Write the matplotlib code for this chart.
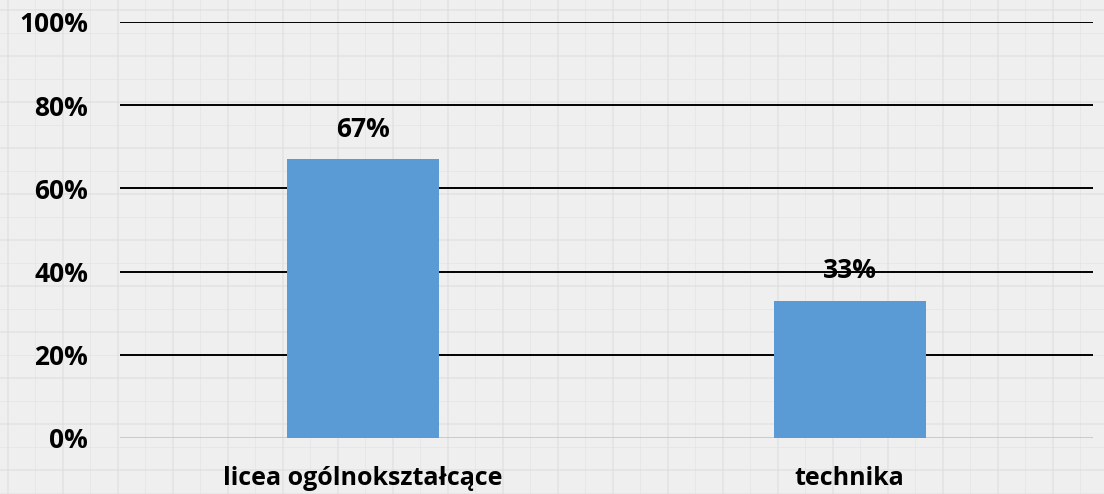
import matplotlib
matplotlib.use('Agg')
import matplotlib.pyplot as plt
from matplotlib.ticker import PercentFormatter

# data
CATEGORIES = ['licea ogólnokształcące', 'technika']
VALUES     = [67, 33]
Y_TICKS    = [0, 20, 40, 60, 80, 100]

BG       = '#efeff0'
PAPER    = '#dedee1'
BAR      = '#5b9bd5'
FONT     = 'Open Sans'

fig = plt.figure(figsize=(11.04, 4.94), dpi=100)
fig.patch.set_facecolor(BG)

# faint grid-paper texture behind the chart
bg = fig.add_axes([0, 0, 1, 1], zorder=-1)
bg.set_xlim(0, 1104); bg.set_ylim(494, 0)
bg.axis('off')
for x in range(8, 1104, 55):
    bg.axvline(x, color=PAPER, lw=1.2, alpha=0.7)
    bg.axvline(x + 27, color=PAPER, lw=0.6, alpha=0.5)
for y in range(10, 494, 46):
    bg.axhline(y, color=PAPER, lw=1.2, alpha=0.7)
    bg.axhline(y + 23, color=PAPER, lw=0.6, alpha=0.5)

ax = fig.add_axes([0.1087, 0.1134, 0.8813, 0.8421])
ax.patch.set_alpha(0)

x = range(len(CATEGORIES))
bars = ax.bar(x, VALUES, width=0.313, color=BAR, zorder=3)

ax.set_xlim(-0.5, 1.5)
ax.set_ylim(0, 100)
ax.set_yticks(Y_TICKS)
ax.yaxis.set_major_formatter(PercentFormatter(decimals=0))
ax.set_xticks(list(x))
ax.set_xticklabels(CATEGORIES)

for sp in ax.spines.values():
    sp.set_visible(False)
ax.tick_params(length=0)
ax.tick_params(axis='y', pad=23)
ax.tick_params(axis='x', pad=20)
for lab in ax.get_yticklabels():
    lab.set_fontsize(19)
for lab in ax.get_xticklabels():
    lab.set_fontsize(18)
for lab in ax.get_yticklabels() + ax.get_xticklabels():
    lab.set_fontfamily(FONT)
    lab.set_fontweight('bold')
    lab.set_color('black')

for yv in Y_TICKS:
    if yv == 0:
        ax.axhline(yv, color='#c8c8c8', lw=1.3, zorder=1)
    else:
        ax.axhline(yv, color='black', lw=1.4, zorder=1)

for bar, val in zip(bars, VALUES):
    ax.text(bar.get_x() + bar.get_width() / 2, val + 4, f'{val}%',
            ha='center', va='bottom', fontsize=19, fontweight='bold',
            family=FONT, color='black', zorder=4)

fig.savefig('out.png', dpi=100, facecolor=BG)
